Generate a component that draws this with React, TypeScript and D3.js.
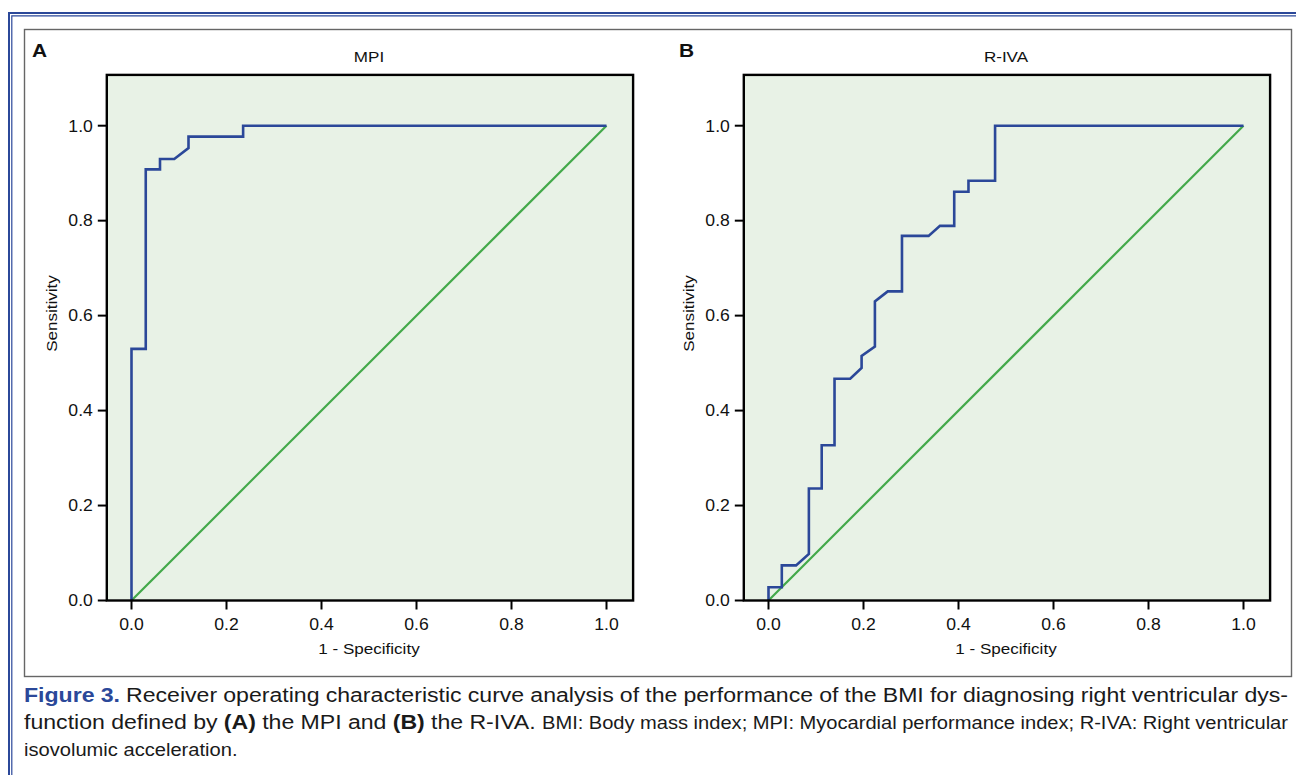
import { useEffect, useRef } from "react";
import * as d3 from "d3";

// tick values on both axes
const axisTicks = [0, 0.2, 0.4, 0.6, 0.8, 1.0];

// Panel A - MPI ROC curve (1 - specificity, sensitivity)
const mpiFpr = [0, 0, 0.03, 0.03, 0.06, 0.06, 0.09, 0.12, 0.12, 0.235, 0.235, 1.0];
const mpiTpr = [0, 0.53, 0.53, 0.908, 0.908, 0.93, 0.93, 0.953, 0.977, 0.977, 1.0, 1.0];

// Panel B - R-IVA ROC curve
const rivaFpr = [0, 0, 0.028, 0.028, 0.058, 0.085, 0.085, 0.112, 0.112, 0.139, 0.139, 0.172, 0.196, 0.196,
    0.224, 0.224, 0.251, 0.281, 0.281, 0.337, 0.361, 0.391, 0.391, 0.421, 0.421, 0.477, 0.477, 1.0];
const rivaTpr = [0, 0.028, 0.028, 0.074, 0.074, 0.098, 0.236, 0.236, 0.327, 0.327, 0.467, 0.467, 0.49, 0.515,
    0.535, 0.63, 0.651, 0.651, 0.768, 0.768, 0.789, 0.789, 0.861, 0.861, 0.884, 0.884, 1.0, 1.0];

// chance reference line
const refPoints = [0, 1];

const panelLetters = ["A", "B"];
const panelTitles = ["MPI", "R-IVA"];
const xTitle = "1 - Specificity";
const yTitle = "Sensitivity";

const SX = 1.1; // the reference glyphs are a bit wide

const App = () => {
    const svgRef = useRef<SVGSVGElement>(null);

    useEffect(() => {
        const svg = d3.select(svgRef.current);
        svg.selectAll("*").remove();

        const blue = "#2b4899";
        const green = "#43a94a";

        const txt = (g: any, x: number, y: number, s: string, size: number, anchor = "start", weight = "normal", rot = 0) =>
            g.append("text")
                .attr("transform", `translate(${x},${y})${rot ? ` rotate(${rot})` : ""} scale(${SX},1)`)
                .attr("font-size", size)
                .attr("text-anchor", anchor)
                .attr("font-weight", weight)
                .attr("fill", "#111")
                .text(s);

        // page frame: blue double rule
        svg.append("path").attr("d", "M9,775 V13.1 H1296").attr("fill", "none").attr("stroke", blue).attr("stroke-width", 2);
        svg.append("path").attr("d", "M11.8,775 V15.8 H1296").attr("fill", "none").attr("stroke", blue).attr("stroke-width", 1.2);

        // figure box
        svg.append("rect").attr("x", 24.5).attr("y", 29.5).attr("width", 1267).attr("height", 647)
            .attr("fill", "none").attr("stroke", "#666").attr("stroke-width", 1.4);

        const series = [
            { fpr: mpiFpr, tpr: mpiTpr },
            { fpr: rivaFpr, tpr: rivaTpr },
        ];

        const y = d3.scaleLinear().domain([0, 1]).range([600.5, 125.7]);
        const yTop = 1.107;

        series.forEach((s, i) => {
            const x0 = 131.5 + i * 637;
            const x = d3.scaleLinear().domain([0, 1]).range([x0, x0 + 475]);
            const g = svg.append("g");
            const left = x(-0.052), right = x(1.056);

            g.append("rect")
                .attr("x", left).attr("y", y(yTop))
                .attr("width", right - left).attr("height", y(0) - y(yTop))
                .attr("fill", "#e8f2e6");

            // diagonal
            g.append("path")
                .datum(refPoints)
                .attr("d", d3.line<number>().x((d) => x(d)).y((d) => y(d)))
                .attr("fill", "none").attr("stroke", green).attr("stroke-width", 2.2);

            // ROC step curve
            g.append("path")
                .datum(d3.range(s.fpr.length))
                .attr("d", d3.line<number>().x((k) => x(s.fpr[k])).y((k) => y(s.tpr[k])))
                .attr("fill", "none").attr("stroke", blue).attr("stroke-width", 2.6)
                .attr("stroke-linejoin", "miter");

            // frame
            g.append("rect")
                .attr("x", left).attr("y", y(yTop))
                .attr("width", right - left).attr("height", y(0) - y(yTop))
                .attr("fill", "none").attr("stroke", "#000").attr("stroke-width", 2.4);

            // ticks
            axisTicks.forEach((t) => {
                g.append("line").attr("x1", left - 9).attr("x2", left).attr("y1", y(t)).attr("y2", y(t))
                    .attr("stroke", "#000").attr("stroke-width", 2);
                txt(g, left - 14, y(t) + 5.8, d3.format(".1f")(t), 16, "end");
                g.append("line").attr("x1", x(t)).attr("x2", x(t)).attr("y1", y(0)).attr("y2", y(0) + 9)
                    .attr("stroke", "#000").attr("stroke-width", 2);
                txt(g, x(t), y(0) + 29.5, d3.format(".1f")(t), 16, "middle");
            });

            const cx = (x(0) + x(1)) / 2;
            txt(g, cx, 62, panelTitles[i], 15.5, "middle");
            txt(g, cx, 654, xTitle, 15.5, "middle");
            txt(g, left - 50, 313.5, yTitle, 15.5, "middle", "normal", -90);
            txt(g, i === 0 ? 32 : 679, 57, panelLetters[i], 19, "start", "bold");
        });

        // caption
        const captionLines = [
            [
                { t: "Figure 3.", w: "bold", c: blue, s: 21 },
                { t: " Receiver operating characteristic curve analysis of the performance of the BMI for diagnosing right ventricular dys-", w: "normal", c: "#1a1a1a", s: 21 },
            ],
            [
                { t: "function defined by ", w: "normal", c: "#1a1a1a", s: 21 },
                { t: "(A)", w: "bold", c: "#1a1a1a", s: 21 },
                { t: " the MPI and ", w: "normal", c: "#1a1a1a", s: 21 },
                { t: "(B)", w: "bold", c: "#1a1a1a", s: 21 },
                { t: " the R-IVA. ", w: "normal", c: "#1a1a1a", s: 21 },
                { t: "BMI: Body mass index; MPI: Myocardial performance index; R-IVA: Right ventricular", w: "normal", c: "#1a1a1a", s: 18.3 },
            ],
            [
                { t: "isovolumic acceleration.", w: "normal", c: "#1a1a1a", s: 18.3 },
            ],
        ];
        const baselines = [702, 729, 756];

        captionLines.forEach((parts, li) => {
            const t = svg.append("text")
                .attr("transform", `translate(24,${baselines[li]}) scale(${SX},1)`)
                .attr("xml:space", "preserve")
                .style("white-space", "pre");
            parts.forEach((p) => {
                t.append("tspan").attr("font-weight", p.w).attr("fill", p.c).attr("font-size", p.s).text(p.t);
            });
            if (li < 2) {
                const node = t.node() as SVGTextElement;
                const w = node.getComputedTextLength();
                const full = parts.map((p) => p.t).join("");
                const spaces = (full.match(/ /g) || []).length;
                t.attr("word-spacing", (1264 / SX - w) / spaces);
            }
        });
    }, []);

    return (
        <svg
            ref={svgRef}
            width={1296}
            height={775}
            style={{ position: "absolute", left: 0, top: 0, background: "#fff" }}
            fontFamily="'Liberation Sans', Arial, Helvetica, sans-serif"
        />
    );
};

export default App;
